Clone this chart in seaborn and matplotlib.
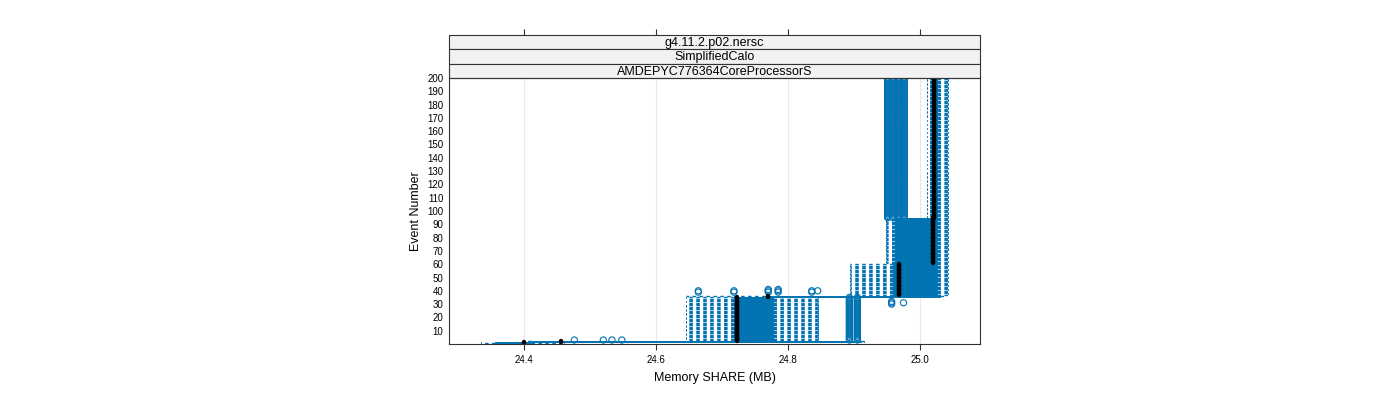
import matplotlib
matplotlib.use("Agg")
import matplotlib.pyplot as plt
import pandas as pd
import seaborn as sns

# Panel strips (top to bottom)
strip_labels = ["g4.11.2.p02.nersc", "SimplifiedCalo", "AMDEPYC776364CoreProcessorS"]

# Box stats per block of events
seg_first = [1, 2, 3, 36, 37, 61, 95]
seg_last = [1, 2, 35, 36, 60, 94, 200]
seg_lo = [24.335, 24.400, 24.645, 24.645, 24.894, 24.948, 25.010]
seg_q1 = [24.355, 24.410, 24.718, 24.765, 24.959, 24.962, 25.019]
seg_med = [24.400, 24.456, 24.723, 24.770, 24.968, 25.020, 25.022]
seg_q3 = [24.410, 24.910, 24.777, 25.030, 25.026, 25.026, 25.026]
seg_hi = [24.460, 24.915, 24.845, 25.040, 25.042, 25.042, 25.042]

# Outliers: (first event, last event, value)
out_first = [3, 3, 3, 3, 3, 3, 30, 31, 39, 39, 39, 39, 39, 40, 95, 95, 95, 95]
out_last = [3, 3, 3, 3, 35, 35, 32, 31, 40, 40, 41, 41, 40, 40, 200, 200, 200, 200]
out_value = [24.476, 24.520, 24.533, 24.548, 24.893, 24.905, 24.957, 24.975,
             24.664, 24.718, 24.770, 24.785, 24.836, 24.845,
             24.951, 24.959, 24.968, 24.976]

x_ticks = [24.4, 24.6, 24.8, 25.0]
y_ticks = list(range(10, 201, 10))

blue = "#0173B2"

rows = []
for f, l, lo, q1, md, q3, hi in zip(seg_first, seg_last, seg_lo, seg_q1, seg_med, seg_q3, seg_hi):
    for ev in range(f, l + 1):
        for v in (lo, q1, md, q3, hi):
            rows.append((ev, v))
df = pd.DataFrame(rows, columns=["event", "share"])

orows = []
for f, l, v in zip(out_first, out_last, out_value):
    for ev in range(f, l + 1):
        orows.append((ev, v))
df_out = pd.DataFrame(orows, columns=["event", "share"])

sns.set_style("white")
plt.rcParams["font.family"] = ["Liberation Sans", "DejaVu Sans"]
plt.rcParams["text.color"] = "black"
plt.rcParams["axes.labelcolor"] = "black"
plt.rcParams["xtick.color"] = "black"
plt.rcParams["ytick.color"] = "black"

fig = plt.figure(figsize=(14, 4), dpi=100)
ax = fig.add_axes([449 / 1400, 1 - 344 / 400, 531 / 1400, 266 / 400])

for t in x_ticks:
    ax.axvline(t, color="#e8e8e8", lw=0.8, zorder=0)

sns.boxplot(data=df, x="share", y="event", orient="h", native_scale=True,
            whis=(0, 100), showfliers=False, color=blue, linecolor=blue,
            saturation=1, width=0.8, linewidth=0.7, ax=ax,
            whiskerprops=dict(linestyle=(0, (2.5, 2.5)), linewidth=1.0),
            medianprops=dict(color="black", linewidth=3.2, solid_capstyle="round"))

sns.scatterplot(data=df_out, x="share", y="event", marker="o", s=20,
                facecolors="none", edgecolor=blue, linewidth=0.8, ax=ax,
                legend=False)

ax.set_xlim(24.286, 25.091)
ax.set_ylim(0, 200)
ax.set_xticks(x_ticks)
ax.set_xticklabels(["24.4", "24.6", "24.8", "25.0"])
ax.set_yticks(y_ticks)
ax.tick_params(axis="x", direction="out", length=4, width=0.8, color="#333333",
               labelsize=7, pad=4, bottom=True)
ax.tick_params(axis="y", length=0, labelsize=7, pad=4)
for s in ax.spines.values():
    s.set_color("#333333")
    s.set_linewidth(0.8)

ax.set_xlabel("Memory SHARE (MB)", fontsize=9, labelpad=5)
ax.set_ylabel("Event Number", fontsize=9, labelpad=4)

# strips
h = 14.4 / 266
for i, lab in enumerate(strip_labels):
    y0 = 1 + (2 - i) * h
    ax.add_patch(plt.Rectangle((0, y0), 1, h, transform=ax.transAxes,
                               facecolor="#f2f2f2", edgecolor="#333333",
                               linewidth=0.8, clip_on=False))
    ax.text(0.5, y0 + h / 2 - 0.003, lab, transform=ax.transAxes, ha="center",
            va="center", fontsize=9)

sec = ax.secondary_xaxis(1 + 3 * h)
sec.set_xticks(x_ticks)
sec.tick_params(axis="x", direction="out", length=4, width=0.8,
                color="#333333", labeltop=False, labelbottom=False)
for s in sec.spines.values():
    s.set_visible(False)

fig.savefig("out.png", dpi=100)
